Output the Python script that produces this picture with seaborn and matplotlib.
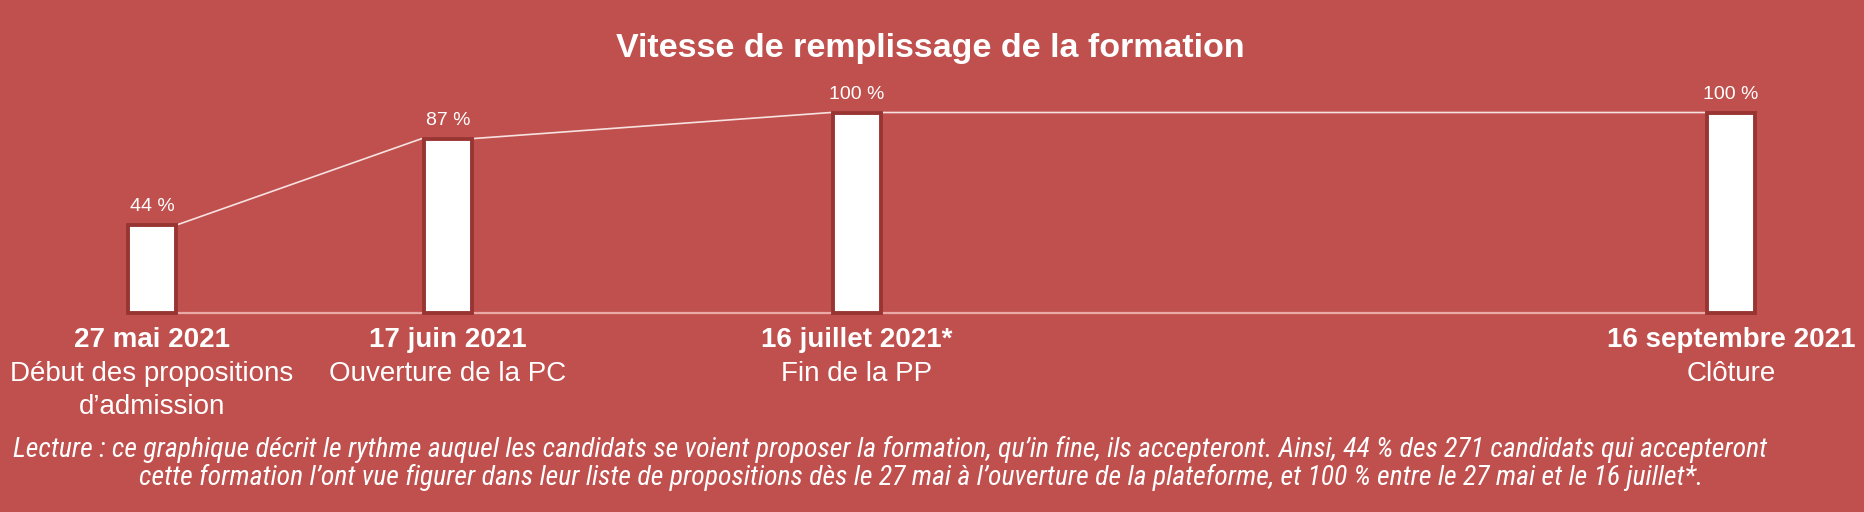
import matplotlib
matplotlib.use("Agg")
import matplotlib.pyplot as plt
import matplotlib.transforms as mtransforms
from matplotlib import font_manager
import pandas as pd
import seaborn as sns

title = "Vitesse de remplissage de la formation"
dates = ["2021-05-27", "2021-06-17", "2021-07-16", "2021-09-16"]
date_labels = ["27 mai 2021", "17 juin 2021", "16 juillet 2021*", "16 septembre 2021"]
step_labels = ["Début des propositions\nd’admission", "Ouverture de la PC", "Fin de la PP", "Clôture"]
fill_pct = [44, 87, 100, 100]
note_lines = [
    "Lecture : ce graphique décrit le rythme auquel les candidats se voient proposer la formation, "
    "qu’in fine, ils accepteront. Ainsi, 44 % des 271 candidats qui accepteront",
    "cette formation l’ont vue figurer dans leur liste de propositions dès le 27 mai à l’ouverture "
    "de la plateforme, et 100 % entre le 27 mai et le 16 juillet*.",
]

BG = "#C0504D"
EDGE = "#983533"
W, H = 1864, 512

df = pd.DataFrame({"date": pd.to_datetime(dates), "pct": fill_pct})
df["day"] = (df["date"] - df["date"].iloc[0]).dt.days

sns.set_theme(style="white")
plt.rcParams['font.family'] = ['Liberation Sans', 'DejaVu Sans']

fig = plt.figure(figsize=(W / 100, H / 100), dpi=100, facecolor=BG)
ax = fig.add_axes([0, 0, 1, 1])
ax.set_facecolor(BG)

px_per_day = 14.098
edge_lw = 2.8  # points
edge_px = edge_lw * 100 / 72
bar_w = (52 - edge_px) / px_per_day
min_gap = df["day"].diff().min()
sns.barplot(data=df, x="day", y="pct", native_scale=True, orient="x",
            width=bar_w / min_gap, color="white", saturation=1,
            edgecolor=EDGE, linewidth=edge_lw, errorbar=None, ax=ax, zorder=3)

half = 26 / px_per_day

# baseline between first and last bar
ax.plot([df["day"].iloc[0], df["day"].iloc[-1]], [0, 0], color="#E9A9A7", lw=1.6, zorder=2)

# line joining the top corners of consecutive bars
xs, ys = [], []
for i in range(len(df) - 1):
    xs += [df["day"][i] + half, df["day"][i + 1] - half]
    ys += [df["pct"][i], df["pct"][i + 1]]
ax.plot(xs, ys, color="#F6E2E1", lw=1.2, zorder=2)

ax.set_xlim(-152 / px_per_day, (W - 152) / px_per_day)
ax.set_ylim(-99.75, 156.25)
ax.axis("off")

trans = mtransforms.blended_transform_factory(ax.transData, ax.transAxes)
for d, v, lab, step in zip(df["day"], df["pct"], date_labels, step_labels):
    ax.annotate(f"{v} %", (d, v), xytext=(0, 13), textcoords="offset points",
                ha="center", va="center", fontsize=14, color="white")
    ax.text(d, 1 - 340 / H, lab, transform=trans, ha="center", va="center",
            fontsize=20, fontweight="bold", color="white")
    ax.text(d, 1 - 361 / H, step, transform=trans, ha="center", va="top",
            fontsize=20, color="white", linespacing=1.33)

fig.text(930 / W, 1 - 49 / H, title, ha="center", va="center",
         fontsize=24.5, fontweight="bold", color="white")

# reading note, condensed italic if a narrow family exists; size fitted to the width
names = {f.name for f in font_manager.fontManager.ttflist}
narrow = [n for n in ["Liberation Sans Narrow", "Roboto Condensed", "Open Sans Condensed",
                      "DejaVu Sans Condensed"] if n in names]
note_family = narrow[:1] + ["Liberation Sans"]
notes = [
    fig.text(890 / W, 1 - 449 / H, note_lines[0], ha="center", va="center",
             fontsize=16, style="italic", color="white", family=note_family),
    fig.text(921 / W, 1 - 477 / H, note_lines[1], ha="center", va="center",
             fontsize=16, style="italic", color="white", family=note_family),
]
renderer = fig.canvas.get_renderer()
size = 16
for _ in range(3):
    size *= 1756 / notes[0].get_window_extent(renderer).width
    for t in notes:
        t.set_fontsize(size)

fig.savefig("out.png", dpi=100, facecolor=BG)
